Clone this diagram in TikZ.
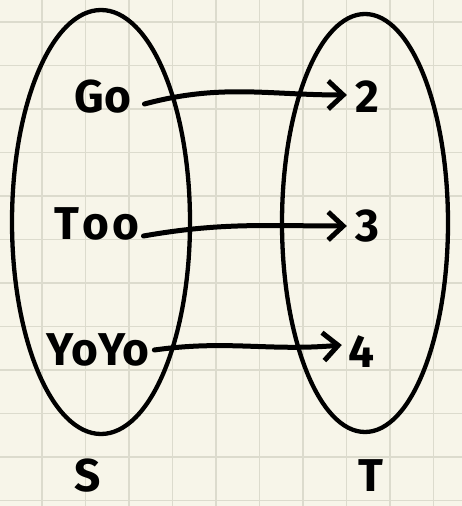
\documentclass[tikz,border=0pt]{standalone}
\usepackage{fontspec}
\setmainfont{Fira Sans}
\usetikzlibrary{arrows.meta}
\definecolor{paper}{HTML}{F7F5E9}
\definecolor{gridc}{HTML}{DCDBCD}
\tikzset{
  lbl/.style={inner sep=0pt, font=\fontsize{46}{50}\selectfont\bfseries},
  setline/.style={line width=4.3pt, black},
  arr/.style={line width=5pt, line cap=round, -{Straight Barb[length=15pt,width=28pt,line width=5pt]}},
}
\begin{document}
\begin{tikzpicture}[x=1pt,y=1pt]
\fill[paper] (0,0) rectangle (462,506);
\useasboundingbox (0,0) rectangle (462,506);
\foreach \k in {1,...,10} {\draw[gridc, line width=1.2pt] ({-1.5+43.5*\k},0) -- ({-1.5+43.5*\k},506);}
\foreach \k in {0,...,11} {\draw[gridc, line width=1.2pt] (0,{484-43.5*\k}) -- (462,{484-43.5*\k});}
\draw[setline] (101,284) ellipse [x radius=89, y radius=212];
\draw[setline] (365,283) ellipse [x radius=83, y radius=209];
\node[lbl] (go) at (103,409) {Go};
\node[lbl] (too) at (97,282) {T\kern3pt o\kern3pt o};
\node[lbl] (yoyo) at (98,156) {YoYo};
\node[lbl] (two) at (367,409) {2};
\node[lbl] (three) at (367,280) {3};
\node[lbl] (four) at (361,154) {4};
\node[lbl] (s) at (88,30) {S};
\node[lbl] (t) at (371,30) {T};
\draw[arr] ([xshift=13pt,yshift=-7pt]go.east) to[out=15,in=180] ([xshift=-8pt,yshift=2pt]two.west);
\draw[arr] ([xshift=4pt,yshift=-12pt]too.east) to[out=10,in=180] ([xshift=-8pt]three.west);
\draw[arr] ([xshift=5pt]yoyo.east) to[out=8,in=185] ([xshift=-6pt,yshift=7pt]four.west);
\end{tikzpicture}
\end{document}
